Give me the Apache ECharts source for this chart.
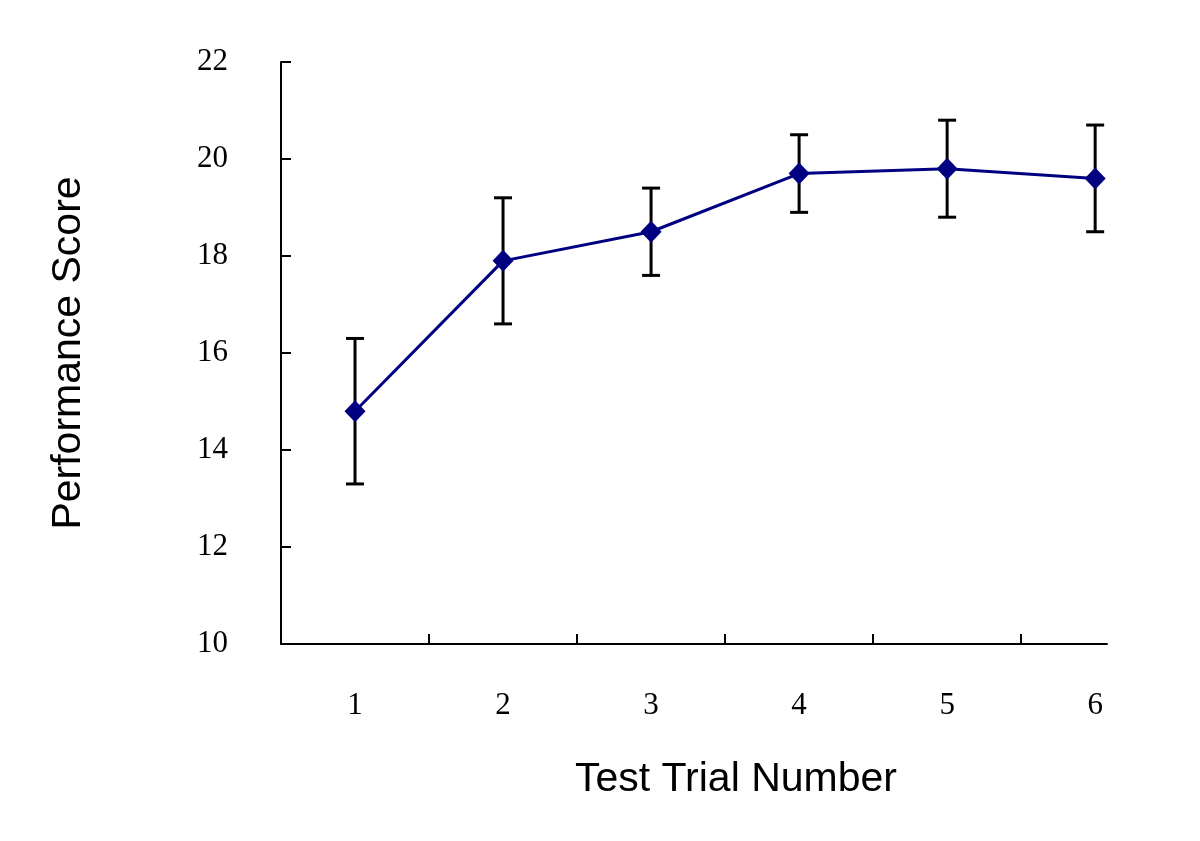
<!DOCTYPE html>
<html>
<head>
<meta charset="utf-8">
<script src="https://cdn.jsdelivr.net/npm/echarts@6/dist/echarts.min.js"></script>
<style>html,body{margin:0;padding:0;background:#fff;}#c{width:1200px;height:841px;}</style>
</head>
<body>
<div id="c"></div>
<script>
const trials = [1, 2, 3, 4, 5, 6];
const means = [14.8, 17.9, 18.5, 19.7, 19.8, 19.6];
const errors = [1.5, 1.3, 0.9, 0.8, 1.0, 1.1];
const yTicks = [10, 12, 14, 16, 18, 20, 22];
const xTickMarks = [1.5, 2.5, 3.5, 4.5, 5.5];

const lineData = trials.map((t, i) => [t, means[i]]);
const errData = trials.map((t, i) => [t, means[i] - errors[i], means[i] + errors[i]]);

const chart = echarts.init(document.getElementById('c'));
chart.setOption({
  backgroundColor: '#fff',
  animation: false,
  grid: { left: 281, right: 93, top: 62, bottom: 197, containLabel: false },
  xAxis: {
    type: 'value', min: 0.5, max: 6.08,
    name: 'Test Trial Number', nameLocation: 'middle', nameGap: 115,
    nameTextStyle: { fontFamily: 'Liberation Sans', fontSize: 41, color: '#000', padding: [0, 0, 0, 84] },
    axisLine: { show: true, onZero: false, lineStyle: { color: '#000', width: 2 } },
    axisTick: { show: true, inside: true, length: 10, customValues: xTickMarks, lineStyle: { color: '#000', width: 2 } },
    axisLabel: { customValues: trials, margin: 46, fontFamily: 'Liberation Serif', fontSize: 31, color: '#000' },
    splitLine: { show: false }
  },
  yAxis: {
    type: 'value', min: 10, max: 22, interval: 2,
    name: 'Performance Score', nameLocation: 'middle', nameGap: 192,
    nameTextStyle: { fontFamily: 'Liberation Sans', fontSize: 41, color: '#000' },
    axisLine: { show: true, lineStyle: { color: '#000', width: 2 } },
    axisTick: { show: true, inside: true, length: 10, lineStyle: { color: '#000', width: 2 } },
    axisLabel: { margin: 53, fontFamily: 'Liberation Serif', fontSize: 31, color: '#000',
      customValues: yTicks },
    splitLine: { show: false }
  },
  series: [
    {
      type: 'custom',
      data: errData,
      z: 1,
      renderItem: function (params, api) {
        const x = api.value(0);
        const lo = api.coord([x, api.value(1)]);
        const hi = api.coord([x, api.value(2)]);
        const w = 9;
        const style = { stroke: '#000', lineWidth: 3 };
        return {
          type: 'group',
          children: [
            { type: 'line', shape: { x1: lo[0], y1: lo[1], x2: hi[0], y2: hi[1] }, style: style },
            { type: 'line', shape: { x1: lo[0] - w, y1: lo[1], x2: lo[0] + w, y2: lo[1] }, style: style },
            { type: 'line', shape: { x1: hi[0] - w, y1: hi[1], x2: hi[0] + w, y2: hi[1] }, style: style }
          ]
        };
      }
    },
    {
      type: 'line',
      data: lineData,
      z: 2,
      symbol: 'diamond',
      symbolSize: [21, 22],
      lineStyle: { color: '#000080', width: 3 },
      itemStyle: { color: '#000080' }
    }
  ]
});
</script>
</body>
</html>
